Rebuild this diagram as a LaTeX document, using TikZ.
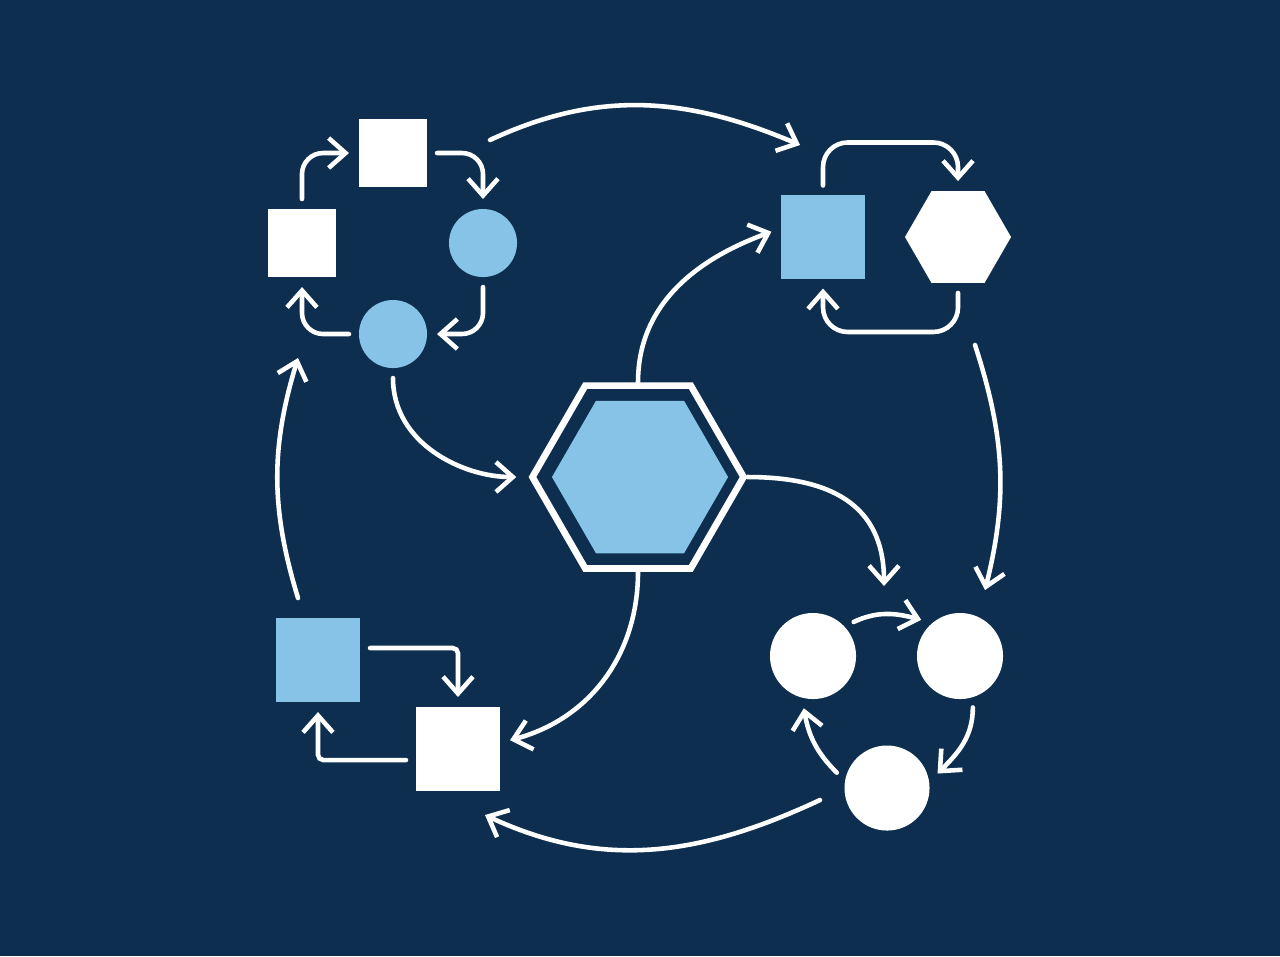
\documentclass[tikz,border=0pt]{standalone}
\usepackage{tikz}
\usetikzlibrary{shapes}
\usetikzlibrary{arrows.meta}
\usetikzlibrary{calc}
\definecolor{mynavy}{HTML}{0D2E4E}
\definecolor{myblue}{HTML}{86C3E6}
\tikzset{x=0.01cm, y=0.01cm}
\tikzstyle{sq} = [rectangle, inner sep=0pt, outer sep=0.1cm]
\tikzstyle{dot} = [circle, inner sep=0pt, outer sep=0.1cm]
\tikzstyle{hex} = [regular polygon, regular polygon sides=6, inner sep=0pt]
\tikzstyle{ln} = [draw=white, line width=1.3pt, line cap=round, -{Straight Barb[length=4.8pt,width=8.5pt]}]
\begin{document}
\begin{tikzpicture}[]
  \fill[mynavy] (0,0) rectangle (1280,-956);
  \useasboundingbox (0,0) rectangle (1280,-956);
  % top left ring
  \node[sq, fill=white, minimum size=0.68cm] (sqa) at (393,-153) {};
  \node[sq, fill=white, minimum size=0.68cm] (sqb) at (302,-243) {};
  \node[dot, fill=myblue, minimum size=0.68cm] (ca) at (483,-243) {};
  \node[dot, fill=myblue, minimum size=0.68cm] (cb) at (393,-334) {};
  \draw[ln, rounded corners=6pt] (sqb.north) |- (sqa.west);
  \draw[ln, rounded corners=6pt] (sqa.east) -| (ca.north);
  \draw[ln, rounded corners=6pt] (ca.south) |- (cb.east);
  \draw[ln, rounded corners=6pt] (cb.west) -| (sqb.south);
  % top right pair
  \node[sq, fill=myblue, minimum size=0.83cm] (bsq) at (823,-237) {};
  \node[hex, fill=white, outer sep=0.1cm, minimum size=1.06cm] (hexr) at (958,-237) {};
  \draw[ln, rounded corners=7pt] (bsq.north) -- ++(0,43) -| (hexr.north);
  \draw[ln, rounded corners=7pt] (hexr.south) -- ++(0,-39) -| (bsq.south);
  % bottom left pair
  \node[sq, fill=myblue, minimum size=0.84cm] (bsqb) at (318,-660) {};
  \node[sq, fill=white, minimum size=0.84cm] (wsq) at (458,-749) {};
  \draw[ln, rounded corners=1.5pt] ($(bsqb.east)+(0,12)$) -| (wsq.north);
  \draw[ln, rounded corners=1.5pt] ($(wsq.west)+(0,-11)$) -| (bsqb.south);
  % bottom right ring
  \node[dot, fill=white, minimum size=0.86cm] (c1) at (813,-656) {};
  \node[dot, fill=white, minimum size=0.86cm] (c2) at (960,-656) {};
  \node[dot, fill=white, minimum size=0.85cm] (c3) at (887,-788) {};
  \draw[ln] (c1.40) to[out=25, in=165] (c2.137);
  \draw[ln] (c2.-76) to[out=-90, in=45] (c3.16);
  \draw[ln] (c3.163) to[out=135, in=-80] (c1.-100);
  % center hub
  \node[hex, draw=white, line width=1.9pt, minimum size=2.11cm] (hexo) at (638,-477) {};
  \node[hex, fill=myblue, minimum size=1.76cm] (hexi) at (640,-477) {};
  \coordinate (rin) at (884,-586);
  \draw[ln, shorten >=3.5pt] (cb.south) to[out=-90, in=180] (hexo.west);
  \draw[ln] (hexo.north) to[out=90, in=200] ([yshift=1.5pt]bsq.west);
  \draw[ln] (hexo.east) to[out=0, in=90, looseness=1.2] (rin);
  \draw[ln] (hexo.south) to[out=-90, in=15] ([yshift=2.5pt]wsq.east);
  % outer loop
  \coordinate (tops) at (490,-140);
  \coordinate (tope) at (800,-145);
  \coordinate (rights) at (975,-345);
  \coordinate (righte) at (985,-590);
  \coordinate (bots) at (820,-800);
  \coordinate (bote) at (485,-815);
  \coordinate (lefts) at (298,-598);
  \coordinate (lefte) at (298,-358);
  \draw[ln] (tops) to[out=25, in=157] (tope);
  \draw[ln] (rights) to[out=-72, in=76] (righte);
  \draw[ln] (bots) to[out=-155, in=-25] (bote);
  \draw[ln] (lefts) to[out=107, in=-107] (lefte);
\end{tikzpicture}
\end{document}
